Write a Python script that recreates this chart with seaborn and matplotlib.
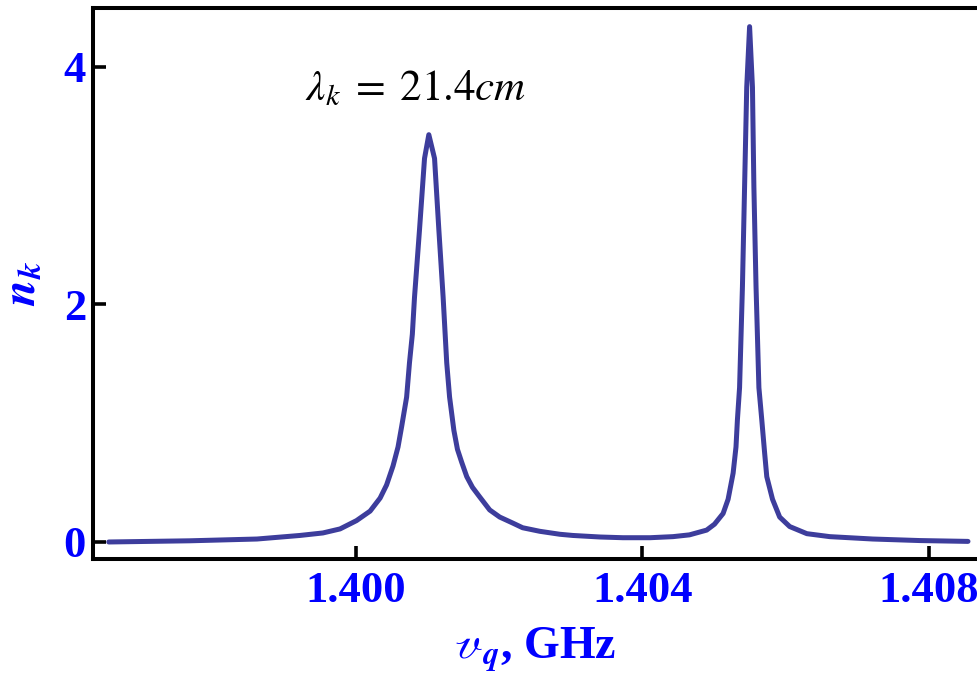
import matplotlib
matplotlib.use("Agg")
import matplotlib.pyplot as plt
import seaborn as sns
import pandas as pd

# Values
freq_ghz = [1.39655, 1.39768, 1.39862, 1.39922, 1.39954, 1.39978, 1.40001, 1.40020,
            1.40034, 1.40043, 1.40052, 1.40059, 1.40064, 1.40071, 1.40075, 1.40079,
            1.40082, 1.40089, 1.40096, 1.40102, 1.40110, 1.40116, 1.40122, 1.40127,
            1.40131, 1.40137, 1.40142, 1.40148, 1.40155, 1.40163, 1.40173, 1.40187,
            1.40201, 1.40219, 1.40233, 1.40257, 1.40285, 1.40303, 1.40341, 1.40373,
            1.40411, 1.40443, 1.40466, 1.40490, 1.40501, 1.40513, 1.40520, 1.40527,
            1.40531, 1.40533, 1.40536, 1.40540, 1.40543, 1.40546, 1.40550, 1.40554,
            1.40556, 1.40559, 1.40563, 1.40567, 1.40571, 1.40574, 1.40582, 1.40592,
            1.40606, 1.40630, 1.40662, 1.40722, 1.40788, 1.40855]
n_k = [0.000, 0.010, 0.025, 0.055, 0.076, 0.110, 0.180, 0.260,
       0.370, 0.480, 0.640, 0.800, 0.970, 1.220, 1.510, 1.750,
       2.060, 2.630, 3.230, 3.430, 3.230, 2.630, 2.060, 1.510,
       1.220, 0.940, 0.780, 0.670, 0.550, 0.460, 0.380, 0.270,
       0.210, 0.160, 0.120, 0.090, 0.065, 0.055, 0.042, 0.036,
       0.036, 0.045, 0.060, 0.100, 0.150, 0.240, 0.360, 0.580,
       0.800, 1.030, 1.300, 2.150, 2.990, 3.830, 4.340, 3.830,
       2.990, 2.150, 1.300, 1.030, 0.750, 0.550, 0.360, 0.210,
       0.130, 0.070, 0.045, 0.025, 0.012, 0.005]

x_ticks = [1.400, 1.404, 1.408]
x_tick_labels = ["1.400", "1.404", "1.408"]
y_ticks = [0, 2, 4]
y_tick_labels = ["0", "2", "4"]
annotation = r"$\lambda_k\;=\;21.4cm$"

df = pd.DataFrame({"freq": freq_ghz, "n": n_k})

sns.set_theme(style="white")
plt.rcParams["font.family"] = ["Liberation Serif", "DejaVu Serif"]
plt.rcParams["mathtext.fontset"] = "stix"

fig = plt.figure(figsize=(9.78, 6.82), dpi=100)
ax = fig.add_axes([0.0951, 0.1804, 0.9049, 0.8079])

sns.lineplot(data=df, x="freq", y="n", ax=ax, sort=False, estimator=None,
             color="#3d3d9c", linewidth=3.6)

ax.set_xlim(1.39633, 1.40869)
ax.set_ylim(-0.143, 4.497)

for side in ["left", "top", "bottom"]:
    ax.spines[side].set_visible(True)
    ax.spines[side].set_color("black")
    ax.spines[side].set_linewidth(2.9)
ax.spines["right"].set_visible(False)

ax.set_xticks(x_ticks)
ax.set_xticklabels(x_tick_labels)
ax.set_yticks(y_ticks)
ax.set_yticklabels(y_tick_labels)
ax.tick_params(axis="both", which="major", direction="in", length=9.5, width=2.6,
               color="black", labelsize=32, labelcolor="#0000ff")
ax.tick_params(axis="x", pad=9, bottom=True, top=False)
ax.tick_params(axis="y", pad=5, left=True, right=False)
for lab in ax.get_xticklabels() + ax.get_yticklabels():
    lab.set_fontweight("bold")

ax.set_xlabel(r"$\mathscr{v}_{\mathbfit{q}}$, GHz", fontsize=33, fontweight="bold",
              color="#0000ff", labelpad=10)
ax.set_ylabel(r"$\mathbfit{n}_{\mathbfit{k}}$", fontsize=34, color="#0000ff",
              labelpad=14)

ax.text(1.39929, 3.72, annotation, fontsize=31, color="black", ha="left",
        va="baseline")

ax.grid(False)
fig.savefig("out.png", dpi=100)
